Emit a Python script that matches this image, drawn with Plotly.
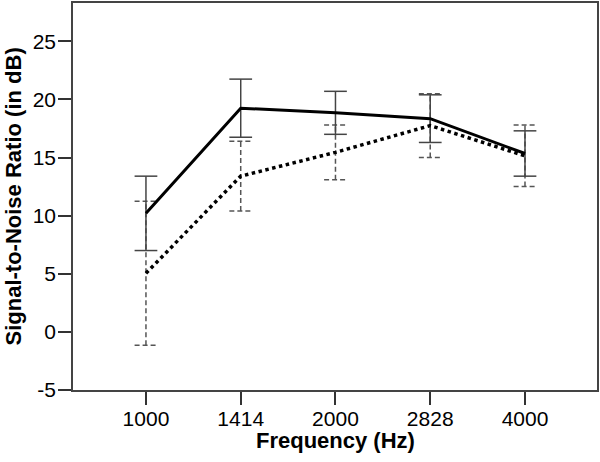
import plotly.graph_objects as go

freqs = ["1000", "1414", "2000", "2828", "4000"]
yticks = [-5, 0, 5, 10, 15, 20, 25]
ytick_text = ["-5", "0", "5", "10", "15", "20", "25"]
solid_mean = [10.2, 19.25, 18.85, 18.35, 15.35]
solid_err = [3.2, 2.5, 1.85, 2.05, 1.95]
dotted_mean = [5.05, 13.4, 15.45, 17.75, 15.15]
dotted_err = [6.2, 3.0, 2.35, 2.75, 2.65]

CAP = 0.12
xs = list(range(len(freqs)))


def errbar_xy(means, errs):
    ex, ey = [], []
    for x, m, e in zip(xs, means, errs):
        lo, hi = m - e, m + e
        ex += [x, x, None, x - CAP, x + CAP, None, x - CAP, x + CAP, None]
        ey += [lo, hi, None, hi, hi, None, lo, lo, None]
    return ex, ey


fig = go.Figure()
ex, ey = errbar_xy(dotted_mean, dotted_err)
fig.add_trace(go.Scatter(x=ex, y=ey, mode="lines", line=dict(color="#555", width=1.5, dash="5px,3px"),
                         showlegend=False, hoverinfo="skip"))
ex, ey = errbar_xy(solid_mean, solid_err)
fig.add_trace(go.Scatter(x=ex, y=ey, mode="lines", line=dict(color="#444", width=1.5),
                         showlegend=False, hoverinfo="skip"))
fig.add_trace(go.Scatter(x=xs, y=dotted_mean, mode="lines", line=dict(color="black", width=3.5, dash="dot"),
                         showlegend=False))
fig.add_trace(go.Scatter(x=xs, y=solid_mean, mode="lines", line=dict(color="black", width=3),
                         showlegend=False))

font = "Liberation Sans"
tf = dict(family=font, size=21, color="black")
fig.update_layout(
    width=600, height=462,
    margin=dict(l=73, r=3, t=3, b=72, autoexpand=False),
    plot_bgcolor="white", paper_bgcolor="white",
    font=dict(family=font, size=21, color="black"),
    xaxis=dict(
        range=[-0.77, 4.76], tickvals=xs, ticktext=freqs,
        showgrid=False, zeroline=False, automargin=False,
        ticks="outside", ticklen=13, tickwidth=1.5, tickcolor="#333",
        tickfont=tf, ticklabelstandoff=-4,
        showline=True, linecolor="#444", linewidth=1.5, mirror=True,
    ),
    yaxis=dict(
        range=[-5, 28.3], tickvals=yticks, ticktext=ytick_text,
        showgrid=False, zeroline=False, automargin=False,
        ticks="outside", ticklen=13, tickwidth=1.5, tickcolor="#333",
        tickfont=tf, ticklabelstandoff=-2,
        showline=True, linecolor="#444", linewidth=1.5, mirror=True,
    ),
    annotations=[
        dict(text="<b>Frequency (Hz)</b>", xref="paper", yref="paper", x=0.5, y=0,
             yshift=-50, xanchor="center", yanchor="middle", showarrow=False,
             font=dict(family=font, size=22, color="black")),
        dict(text="<b>Signal-to-Noise Ratio (in dB)</b>", xref="paper", yref="paper", x=0, y=0.5,
             xshift=-60, xanchor="center", yanchor="middle", textangle=-90, showarrow=False,
             font=dict(family=font, size=22, color="black")),
    ],
)
fig.write_html("out.html", config={"displayModeBar": False},
               post_script="document.body.style.margin='0';")
